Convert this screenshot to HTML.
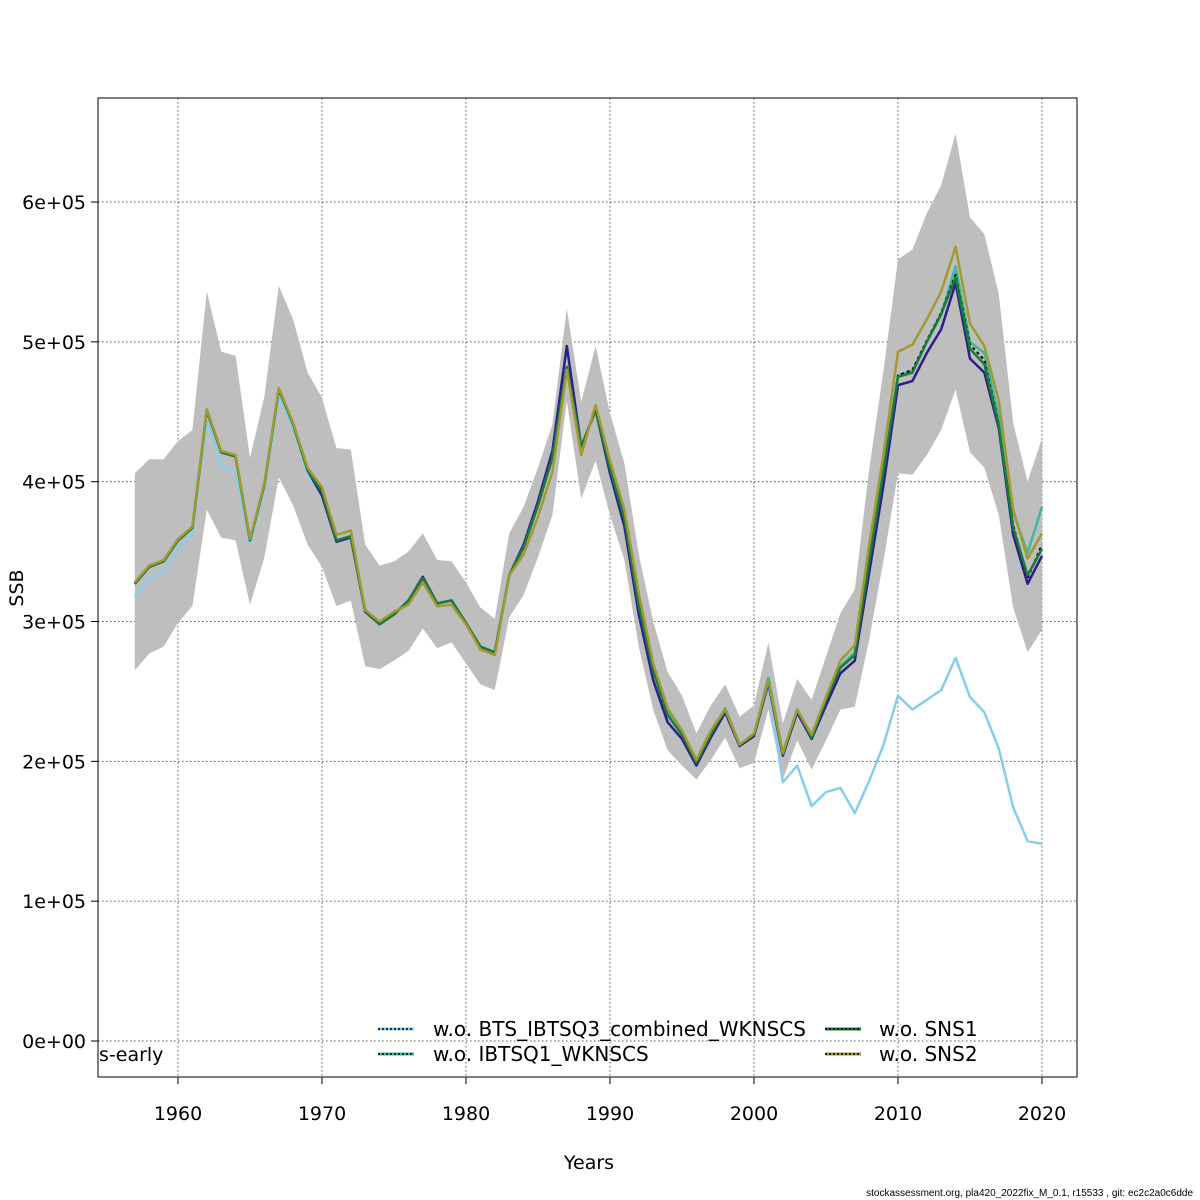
<!DOCTYPE html>
<html><head><meta charset="utf-8"><style>
body{margin:0;background:#fff;}
svg{display:block;font-family:"DejaVu Sans","Liberation Sans",sans-serif;}
</style></head><body>
<svg id="chart" width="1200" height="1200" viewBox="0 0 1200 1200">
<g id="grid"></g>
<g id="band"></g>
<g id="lines"></g>
<rect x="98" y="98" width="979" height="979" fill="none" stroke="#000" stroke-width="1"/>
<g id="axes"></g>
<text x="589" y="1169" font-size="19" text-anchor="middle">Years</text>
<text x="0" y="0" font-size="19" text-anchor="middle" transform="translate(23,588) rotate(-90)">SSB</text>
<text x="99" y="1061" font-size="19">s-early</text>
<g id="legend">
 <g>
  <line x1="378" y1="1029" x2="414" y2="1029" stroke="#87ceeb" stroke-width="3"/><line x1="378" y1="1029" x2="414" y2="1029" stroke="#000" stroke-width="1.5" stroke-dasharray="2,2"/>
  <text x="433" y="1036" font-size="20">w.o. BTS_IBTSQ3_combined_WKNSCS</text></g>
 <g>
  <line x1="378" y1="1054" x2="414" y2="1054" stroke="#3fb8a0" stroke-width="3"/><line x1="378" y1="1054" x2="414" y2="1054" stroke="#000" stroke-width="1.5" stroke-dasharray="2,2"/>
  <text x="433" y="1061" font-size="20">w.o. IBTSQ1_WKNSCS</text></g>
 <g>
  <line x1="825" y1="1029" x2="861" y2="1029" stroke="#1e7a3a" stroke-width="3"/><line x1="825" y1="1029" x2="861" y2="1029" stroke="#000" stroke-width="1.5" stroke-dasharray="2,2"/>
  <text x="879" y="1036" font-size="20">w.o. SNS1</text></g>
 <g>
  <line x1="825" y1="1054" x2="861" y2="1054" stroke="#a09a30" stroke-width="3"/><line x1="825" y1="1054" x2="861" y2="1054" stroke="#000" stroke-width="1.5" stroke-dasharray="2,2"/>
  <text x="879" y="1061" font-size="20">w.o. SNS2</text></g>
</g>
<text x="1193" y="1196" font-size="10" text-anchor="end" font-family="Liberation Sans, sans-serif">stockassessment.org, pla420_2022fix_M_0.1, r15533 , git: ec2c2a0c6dde</text>
</svg>
<script>
const years = [];
for (let y = 1957; y <= 2020; y++) years.push(y);
const xTicks = [1960, 1970, 1980, 1990, 2000, 2010, 2020];
const yTicks = [0, 1e5, 2e5, 3e5, 4e5, 5e5, 6e5];
const yTickLabels = ["0e+00","1e+05","2e+05","3e+05","4e+05","5e+05","6e+05"];
// values in units of 1e5
const upper = [4.06,4.16,4.16,4.29,4.37,5.36,4.93,4.90,4.17,4.61,5.40,5.16,4.78,4.60,4.24,4.23,3.55,3.40,3.43,3.50,3.63,3.44,3.43,3.28,3.10,3.02,3.63,3.82,4.10,4.41,5.24,4.57,4.97,4.49,4.13,3.48,3.00,2.64,2.47,2.20,2.40,2.55,2.32,2.40,2.85,2.27,2.59,2.44,2.75,3.06,3.23,4.09,4.80,5.59,5.66,5.92,6.12,6.49,5.89,5.77,5.34,4.42,4.00,4.31];
const lower = [2.65,2.77,2.82,2.99,3.11,3.80,3.60,3.58,3.12,3.46,4.03,3.83,3.55,3.39,3.11,3.15,2.68,2.66,2.72,2.79,2.95,2.81,2.85,2.70,2.55,2.51,3.03,3.19,3.46,3.76,4.58,3.88,4.15,3.76,3.44,2.82,2.37,2.08,1.97,1.87,2.01,2.17,1.95,1.99,2.37,1.87,2.15,1.94,2.15,2.37,2.39,2.87,3.44,4.06,4.05,4.19,4.37,4.66,4.21,4.10,3.76,3.10,2.78,2.94];
const baseRun = [3.27,3.39,3.43,3.58,3.67,4.51,4.21,4.18,3.58,3.98,4.66,4.41,4.08,3.93,3.58,3.61,3.08,2.98,3.05,3.15,3.31,3.13,3.15,2.99,2.82,2.78,3.33,3.53,3.83,4.17,4.82,4.25,4.51,4.10,3.74,3.12,2.65,2.33,2.19,1.99,2.19,2.37,2.12,2.19,2.58,2.05,2.37,2.17,2.44,2.67,2.76,3.43,4.08,4.76,4.80,5.01,5.21,5.48,4.98,4.87,4.41,3.69,3.31,3.55];
const navyRun = [3.27,3.39,3.43,3.58,3.67,4.51,4.21,4.18,3.58,3.98,4.66,4.41,4.08,3.90,3.57,3.60,3.07,2.98,3.05,3.15,3.32,3.13,3.15,2.99,2.82,2.78,3.33,3.55,3.86,4.22,4.97,4.25,4.51,4.06,3.68,3.05,2.58,2.28,2.16,1.97,2.17,2.35,2.11,2.18,2.56,2.04,2.35,2.16,2.40,2.63,2.72,3.35,3.98,4.69,4.72,4.92,5.09,5.42,4.88,4.78,4.38,3.62,3.27,3.47];
const skyRun = [3.18,3.30,3.36,3.52,3.63,4.45,4.12,4.07,3.56,3.95,4.62,4.38,4.05,3.90,3.58,3.61,3.08,2.98,3.05,3.15,3.31,3.13,3.15,2.99,2.82,2.78,3.33,3.53,3.83,4.17,4.82,4.25,4.51,4.10,3.74,3.12,2.65,2.33,2.19,1.99,2.19,2.37,2.12,2.19,2.55,1.85,1.97,1.68,1.78,1.81,1.63,1.86,2.12,2.47,2.37,2.44,2.51,2.74,2.46,2.35,2.09,1.67,1.43,1.41];
const tealRun = [3.27,3.39,3.43,3.58,3.67,4.51,4.21,4.18,3.58,3.98,4.66,4.41,4.08,3.93,3.58,3.61,3.08,2.98,3.05,3.15,3.31,3.13,3.15,2.99,2.82,2.78,3.33,3.53,3.83,4.17,4.82,4.25,4.51,4.10,3.74,3.12,2.65,2.35,2.20,2.01,2.21,2.38,2.12,2.19,2.60,2.06,2.37,2.17,2.44,2.68,2.78,3.45,4.10,4.76,4.79,5.00,5.19,5.54,5.00,4.92,4.47,3.78,3.49,3.82];
const greenRun = [3.27,3.39,3.43,3.58,3.67,4.51,4.21,4.18,3.58,3.98,4.66,4.41,4.08,3.93,3.58,3.61,3.08,2.98,3.05,3.15,3.31,3.13,3.15,2.99,2.82,2.78,3.33,3.53,3.83,4.17,4.82,4.25,4.51,4.10,3.74,3.12,2.65,2.33,2.19,1.99,2.19,2.37,2.12,2.19,2.58,2.05,2.37,2.17,2.44,2.67,2.76,3.43,4.08,4.75,4.78,5.00,5.20,5.46,4.95,4.84,4.40,3.67,3.33,3.52];
const oliveRun = [3.28,3.40,3.44,3.59,3.68,4.52,4.22,4.19,3.59,3.99,4.67,4.42,4.10,3.96,3.62,3.65,3.08,3.00,3.07,3.12,3.28,3.11,3.12,2.98,2.80,2.76,3.33,3.48,3.75,4.07,4.80,4.19,4.55,4.15,3.80,3.20,2.70,2.38,2.22,2.01,2.22,2.37,2.12,2.20,2.58,2.06,2.37,2.19,2.46,2.72,2.83,3.55,4.20,4.93,4.98,5.16,5.36,5.68,5.13,4.97,4.58,3.80,3.45,3.63];

const NS = "http://www.w3.org/2000/svg";
const X0 = 178, X1 = 1042, Y0 = 1041, YPX = 139.83;
function sx(yr){ return X0 + (yr - 1960) * (X1 - X0) / 60; }
function sy(v){ return Y0 - v * YPX; }
function mk(tag, attrs, parent){ const e = document.createElementNS(NS, tag); for (const k in attrs) e.setAttribute(k, attrs[k]); parent.appendChild(e); return e; }

const grid = document.getElementById('grid');
const axes = document.getElementById('axes');
xTicks.forEach(t => {
  const l = mk('line', {x1: sx(t), x2: sx(t), y1: 98, y2: 1077, stroke: '#555', 'stroke-width': 1, 'stroke-dasharray': '1.5,2.5'}, grid);
  
  
  const tk = mk('line', {x1: sx(t), x2: sx(t), y1: 1077, y2: 1084, stroke: '#000'}, axes);
  
  
  const tx = mk('text', {x: sx(t), y: 1120, 'font-size': 19, 'text-anchor': 'middle'}, axes);
  tx.textContent = t;
  
  
});
yTicks.forEach((t, i) => {
  const yy = sy(t / 1e5);
  const l = mk('line', {x1: 98, x2: 1077, y1: yy, y2: yy, stroke: '#555', 'stroke-width': 1, 'stroke-dasharray': '1.5,2.5'}, grid);
  
  
  const tk = mk('line', {x1: 91, x2: 98, y1: yy, y2: yy, stroke: '#000'}, axes);
  
  
  const tx = mk('text', {x: 86, y: yy + 7, 'font-size': 19, 'text-anchor': 'end'}, axes);
  tx.textContent = yTickLabels[i];
  
  
});

const band = document.getElementById('band');
let pts = years.map((y, i) => sx(y) + ',' + sy(upper[i]));
for (let i = years.length - 1; i >= 0; i--) pts.push(sx(years[i]) + ',' + sy(lower[i]));
const poly = mk('polygon', {points: pts.join(' '), fill: '#bebebe', stroke: 'none'}, band);



const lines = document.getElementById('lines');
function drawLine(arr, color, w, dash, name){
  const p = mk('polyline', {points: years.map((y, i) => sx(y) + ',' + sy(arr[i])).join(' '), fill: 'none', stroke: color, 'stroke-width': w, 'stroke-linejoin': 'round'}, lines);
  if (dash) p.setAttribute('stroke-dasharray', dash);
  
  
}
drawLine(skyRun, '#87ceeb', 2.5, null, 'line-wo-bts-ibtsq3');
drawLine(navyRun, '#2a1f8a', 2.5, null, 'line-navy-run');
drawLine(tealRun, '#3fb8a0', 2.5, null, 'line-wo-ibtsq1');
drawLine(baseRun, '#000', 2, '3,3', 'line-base-run');
drawLine(greenRun, '#1e7a3a', 2.5, null, 'line-wo-sns1');
drawLine(oliveRun, '#a09a30', 2.5, null, 'line-wo-sns2');
</script>
</body></html>
